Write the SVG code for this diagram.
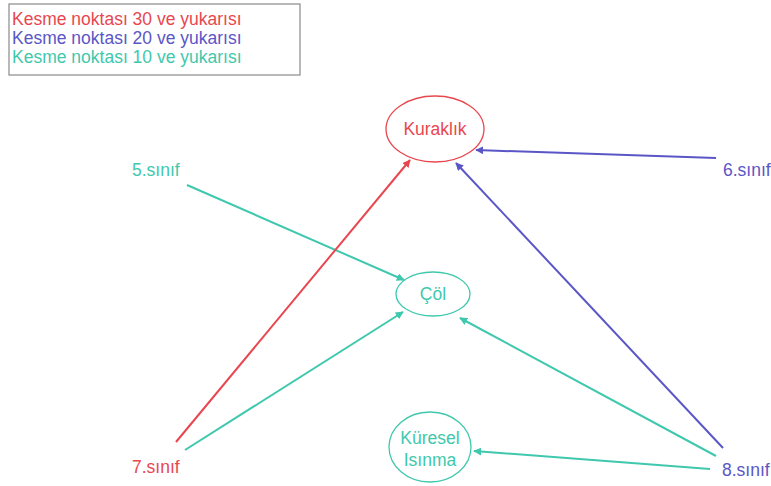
<svg xmlns="http://www.w3.org/2000/svg" width="771" height="486" viewBox="0 0 771 486">
  <style>
    text { font-family: "Liberation Sans", Arial, sans-serif; font-size: 17.5px; }
    .red { fill: #e8474f; }
    .blue { fill: #5b56c6; }
    .teal { fill: #3fc8ad; }
    .node-red { fill: #ffffff; stroke: #e8474f; stroke-width: 1.3; }
    .node-teal { fill: #ffffff; stroke: #3fc8ad; stroke-width: 1.3; }
    .e-red { stroke: #e8474f; stroke-width: 2; fill: none; marker-end: url(#ah-red); }
    .e-blue { stroke: #5b56c6; stroke-width: 2; fill: none; marker-end: url(#ah-blue); }
    .e-teal { stroke: #3fc8ad; stroke-width: 2; fill: none; marker-end: url(#ah-teal); }
  </style>
  <defs>
    <marker id="ah-red" viewBox="0 0 10 10" refX="9" refY="5" markerWidth="4" markerHeight="4" orient="auto"><path d="M0,0 L10,5 L0,10 z" fill="#e8474f"/></marker>
    <marker id="ah-blue" viewBox="0 0 10 10" refX="9" refY="5" markerWidth="4" markerHeight="4" orient="auto"><path d="M0,0 L10,5 L0,10 z" fill="#5b56c6"/></marker>
    <marker id="ah-teal" viewBox="0 0 10 10" refX="9" refY="5" markerWidth="4" markerHeight="4" orient="auto"><path d="M0,0 L10,5 L0,10 z" fill="#3fc8ad"/></marker>
  </defs>
  <rect width="771" height="486" fill="#ffffff"/>

  <!-- legend -->
  <g id="legend">
    <rect x="9" y="4" width="291" height="71" fill="#ffffff" stroke="#8a8a8a" stroke-width="1.2"/>
    <text x="12" y="25" class="red">Kesme noktası 30 ve yukarısı</text>
    <text x="12" y="44" class="blue">Kesme noktası 20 ve yukarısı</text>
    <text x="12" y="63" class="teal">Kesme noktası 10 ve yukarısı</text>
  </g>

  <!-- connectors -->
  <g id="edges">
    <line class="e-teal" x1="187" y1="185" x2="404" y2="280"/>
    <line class="e-blue" x1="716" y1="158" x2="476" y2="150"/>
    <line class="e-red" x1="176" y1="442" x2="410" y2="160"/>
    <line class="e-teal" x1="185" y1="450" x2="403" y2="312"/>
    <line class="e-blue" x1="723" y1="448" x2="456" y2="163"/>
    <line class="e-teal" x1="716" y1="456" x2="460" y2="318"/>
    <line class="e-teal" x1="710" y1="469" x2="474" y2="451"/>
  </g>

  <g id="kuraklik">
    <ellipse class="node-red" cx="435" cy="129" rx="49" ry="33"/>
    <text x="435" y="135" text-anchor="middle" class="red">Kuraklık</text>
  </g>
  <g id="col">
    <ellipse class="node-teal" cx="433" cy="294" rx="37" ry="22"/>
    <text x="433" y="300" text-anchor="middle" class="teal">Çöl</text>
  </g>
  <g id="kuresel-isinma">
    <ellipse class="node-teal" cx="430" cy="447" rx="41" ry="35"/>
    <text x="430" y="444" text-anchor="middle" class="teal">Küresel</text>
    <text x="430" y="466" text-anchor="middle" class="teal">Isınma</text>
  </g>
  <g id="sinif5">
    <text x="132" y="176" class="teal">5.sınıf</text>
  </g>
  <g id="sinif6">
    <text x="723" y="176" class="blue">6.sınıf</text>
  </g>
  <g id="sinif7">
    <text x="132" y="473" class="red">7.sınıf</text>
  </g>
  <g id="sinif8">
    <text x="722" y="476" class="blue">8.sınıf</text>
  </g>
</svg>
